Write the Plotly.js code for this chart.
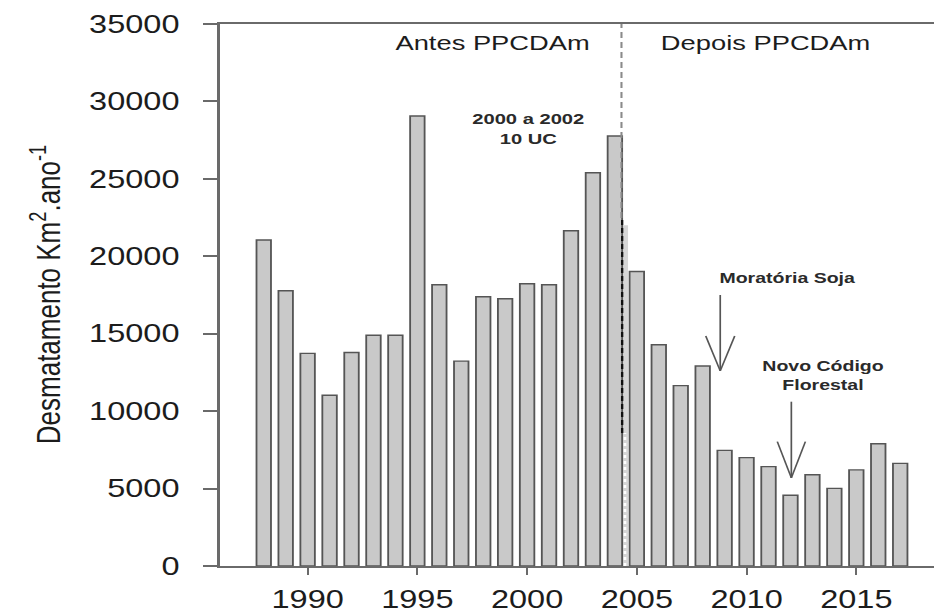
<!DOCTYPE html>
<html><head><meta charset="utf-8">
<script src="https://cdn.plot.ly/plotly-3.0.1.min.js"></script>
<style>
html,body{margin:0;padding:0;background:#fff;overflow:hidden}
#wrap{width:934px;height:614px;overflow:hidden;position:relative}
#chart{width:718px;height:614px;transform:scaleX(1.30084);transform-origin:0 0}
</style>
</head><body><div id="wrap"><div id="chart"></div></div>
<script>
// ---- data ----
const years = [1988,1989,1990,1991,1992,1993,1994,1995,1996,1997,1998,1999,2000,2001,2002,
               2003,2004,2005,2006,2007,2008,2009,2010,2011,2012,2013,2014,2015,2016,2017];
const deforestation = [21050,17770,13730,11030,13786,14896,14896,29059,18161,13227,17383,17259,18226,18165,21651,
                       25396,27772,19014,14286,11651,12911,7464,7000,6418,4571,5891,5012,6207,7893,6624];
const xTickVals = [1990,1995,2000,2005,2010,2015];
const xTickText = ['1990','1995','2000','2005','2010','2015'];
const yTickVals = [0,5000,10000,15000,20000,25000,30000,35000];
const yTickText = ['0','5000','10000','15000','20000','25000','30000','35000'];
const periodLabels = ['Antes PPCDAm','Depois PPCDAm'];
const noteLabels = ['2000 a 2002<br>10 UC','Moratória Soja','Novo Código<br>Florestal'];
const yTitle = 'Desmatamento Km<sup>2</sup>.ano<sup>-1</sup>';
const policyYear = 2004.3;
const arrowYears = [2008.8, 2012.04];

const FONT = 'Liberation Sans, Arial, Helvetica, sans-serif';
const TXT = '#1c1c1c';
const AX = '#6a6a6a';

const trace = {
  type:'bar', x:years, y:deforestation, width:0.66,
  marker:{color:'#c9c9c9', line:{color:'#555555', width:1.4}},
  hoverinfo:'x+y', showlegend:false
};

// arrows (vertical stem + open V head)
const arrowGeom = [
  {top:17500, tip:12600, armY:14850, dx:0.66},
  {top:10610, tip:5690, armY:8030, dx:0.64}
];
const shapes = [];
arrowYears.forEach((ax,i)=>{
  const g = arrowGeom[i];
  const ln = {color:'#555', width:1.3};
  shapes.push({type:'line', xref:'x', yref:'y', x0:ax, x1:ax, y0:g.top, y1:g.tip, line:ln});
  shapes.push({type:'line', xref:'x', yref:'y', x0:ax-g.dx, x1:ax, y0:g.armY, y1:g.tip, line:ln});
  shapes.push({type:'line', xref:'x', yref:'y', x0:ax+g.dx, x1:ax, y0:g.armY, y1:g.tip, line:ln});
});
// policy divider
shapes.push({type:'rect', xref:'x', yref:'y', x0:policyYear, x1:policyYear+0.3, y0:0, y1:22000,
             fillcolor:'#d6d6d6', line:{width:0}, layer:'below'});
shapes.push({type:'line', xref:'x', yref:'y', x0:policyYear, x1:policyYear, y0:22470, y1:35000,
             line:{color:'#8a8a8a', width:1.6, dash:'6px,4px'}});
shapes.push({type:'line', xref:'x', yref:'y', x0:policyYear+0.03, x1:policyYear+0.03, y0:8590, y1:22470,
             line:{color:'#111', width:1.8, dash:'5px,3px'}});
shapes.push({type:'line', xref:'x', yref:'y', x0:policyYear+0.16, x1:policyYear+0.16, y0:0, y1:8590,
             line:{color:'#ffffff', width:2, dash:'dot'}});

const annotations = [
  {x:1998.43, y:33800, text:periodLabels[0], font:{family:FONT, size:21, color:TXT}},
  {x:2010.88, y:33800, text:periodLabels[1], font:{family:FONT, size:21, color:TXT}},
  {x:2000.02, y:28220, text:noteLabels[0], font:{family:FONT, size:15.5, color:'#2a2a2a', weight:'bold'}},
  {x:2011.85, y:18660, text:noteLabels[1], font:{family:FONT, size:15, color:'#2a2a2a', weight:'bold'}},
  {x:2013.45, y:12330, text:noteLabels[2], font:{family:FONT, size:15, color:'#2a2a2a', weight:'bold'}},
  {xref:'paper', yref:'paper', x:-0.2437, y:0.5, text:yTitle, textangle:-90,
   font:{family:FONT, size:26, color:TXT}}
].map(a=>Object.assign({xref:'x', yref:'y', showarrow:false, xanchor:'center', yanchor:'middle'}, a));

const layout = {
  width:718, height:614,
  margin:{l:168.5, r:0, t:24, b:48, pad:0},
  paper_bgcolor:'#fff', plot_bgcolor:'#fff',
  font:{family:FONT, color:TXT},
  bargap:0.3,
  xaxis:{range:[1986,2018.54], tickmode:'array', tickvals:xTickVals, ticktext:xTickText,
         ticks:'outside', ticklen:7, tickwidth:1.5, tickcolor:AX,
         showline:true, linecolor:AX, linewidth:2, mirror:true,
         showgrid:false, zeroline:false, ticklabelstandoff:3,
         tickfont:{family:FONT, size:25, color:TXT}},
  yaxis:{range:[0,35000], tickmode:'array', tickvals:yTickVals, ticktext:yTickText,
         ticks:'outside', ticklen:11, tickwidth:2, tickcolor:AX,
         showline:true, linecolor:AX, linewidth:2, mirror:false,
         showgrid:false, zeroline:false, ticklabelstandoff:13,
         tickfont:{family:FONT, size:25, color:TXT}},
  shapes:shapes,
  annotations:annotations
};
Plotly.newPlot('chart',[trace],layout,{staticPlot:true, displayModeBar:false});
</script></body></html>
